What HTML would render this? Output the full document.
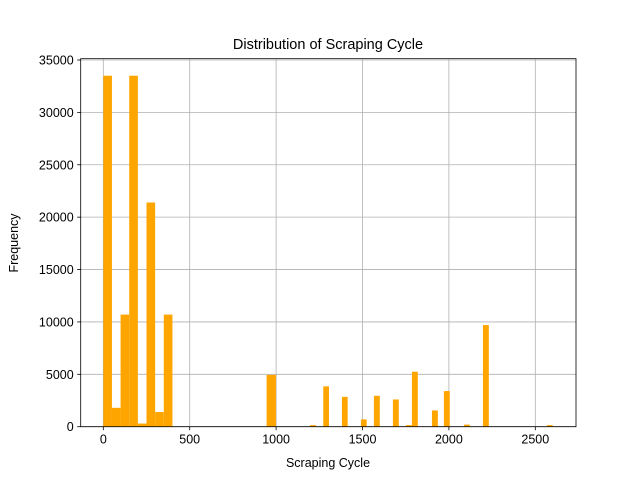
<!DOCTYPE html>
<html><head><meta charset="utf-8"><style>
body{margin:0;background:#fff;}
svg{display:block;font-family:"Liberation Sans","DejaVu Sans",sans-serif;}
</style></head><body>
<svg id="chart" width="640" height="480" xmlns="http://www.w3.org/2000/svg">
<rect width="640" height="480" fill="#fff"/>
<g id="grid"></g>
<g id="bars"></g>
<g id="axes"></g>
<text x="328" y="49" font-size="14.5" text-anchor="middle">Distribution of Scraping Cycle</text>
<text x="328" y="467" font-size="12.5" text-anchor="middle">Scraping Cycle</text>
<text x="18" y="243" font-size="12.5" text-anchor="middle" transform="rotate(-90 18 243)">Frequency</text>
</svg>
<script>
const binStart = [0,50,100,150,200,250,300,350,945,1196,1273,1381,1491,1566,1676,1751,1786,1902,1971,2087,2197,2567];
const binEnd   = [50,100,150,200,250,300,350,400,999,1230,1306,1414,1524,1600,1710,1785,1820,1936,2005,2121,2231,2601];
const counts   = [33500,1800,10700,33500,300,21400,1400,10700,4950,150,3850,2850,700,2950,2600,150,5250,1550,3400,200,9700,150];
const xTicks = [0,500,1000,1500,2000,2500];
const yTicks = [0,5000,10000,15000,20000,25000,30000,35000];
const L=80.7,R=576,T=58.7,B=426.7;
const x0=103.3, xs=0.1728;
const X=v=>x0+v*xs;
const Y=v=>B-v*(B-60)/35000;
const NS="http://www.w3.org/2000/svg";
function mk(tag,attrs,parent){const e=document.createElementNS(NS,tag);for(const k in attrs)e.setAttribute(k,attrs[k]);parent.appendChild(e);return e;}
const grid=document.getElementById('grid'),bars=document.getElementById('bars'),axes=document.getElementById('axes');
xTicks.forEach(t=>{
  const g=mk('line',{x1:X(t),x2:X(t),y1:T,y2:B,stroke:'#b0b0b0','stroke-width':0.8},grid);
  
  
  const tk=mk('line',{x1:X(t),x2:X(t),y1:B,y2:B+3.5,stroke:'#000','stroke-width':0.8},axes);
  
  
  const tx=mk('text',{x:X(t),y:B+17,'font-size':12.5,'text-anchor':'middle'},axes);
  tx.textContent=t;
  
  
});
yTicks.forEach(t=>{
  const g=mk('line',{x1:L,x2:R,y1:Y(t),y2:Y(t),stroke:'#b0b0b0','stroke-width':0.8},grid);
  
  
  const tk=mk('line',{x1:L-3.5,x2:L,y1:Y(t),y2:Y(t),stroke:'#000','stroke-width':0.8},axes);
  
  
  const tx=mk('text',{x:L-7,y:Y(t)+4.5,'font-size':12.5,'text-anchor':'end'},axes);
  tx.textContent=t;
  
  
});
counts.forEach((c,i)=>{
  const r=mk('rect',{x:X(binStart[i]),y:Y(c),width:X(binEnd[i])-X(binStart[i]),height:B-Y(c),fill:'#ffa500'},bars);
  
  
});
const fr=mk('rect',{x:L,y:T,width:R-L,height:B-T,fill:'none',stroke:'#000','stroke-width':0.8},axes);


</script>
</body></html>
